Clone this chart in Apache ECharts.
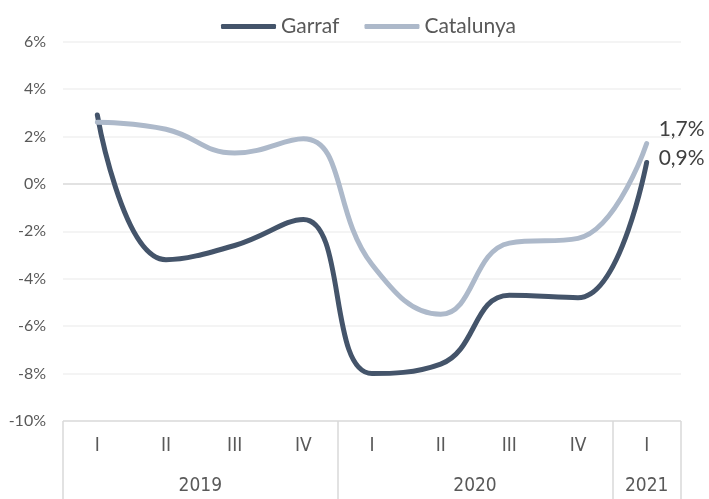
<!DOCTYPE html>
<html>
<head>
<meta charset="utf-8">
<script src="https://cdn.jsdelivr.net/npm/echarts@6/dist/echarts.min.js"></script>
<style>
  body { margin: 0; padding: 0; background: #fff; }
  #chart { width: 709px; height: 499px; }
</style>
</head>
<body>
<div id="chart"></div>
<script>
  // trimestres i anys
  const quarters = ['I', 'II', 'III', 'IV', 'I', 'II', 'III', 'IV', 'I'];
  const years = ['2019', '2020', '2021'];
  const yearCenters = [2, 6, 8.5];   // centre del grup d'anys (en trimestres)
  const yearBounds = [0, 4, 8, 9];   // separadors entre anys

  // variacio interanual (%)
  const garraf = [2.9, -3.2, -2.6, -1.5, -8.0, -7.6, -4.7, -4.8, 0.9];
  const catalunya = [2.6, 2.3, 1.3, 1.9, -3.4, -5.5, -2.5, -2.3, 1.7];

  const colors = ['#44546A', '#ADB9CA'];
  const font = 'Lato, "Liberation Sans", sans-serif';
  const narrow = '"DejaVu Sans Condensed", "Liberation Sans Narrow", Lato, sans-serif';

  let myChart = echarts.init(document.getElementById('chart'));

  // linia del 0% i la de baix una mica mes fosques
  let splitColors = ['#d9d9d9', '#f0f0f0', '#f0f0f0', '#f0f0f0', '#f0f0f0', '#d9d9d9', '#f0f0f0', '#f0f0f0', '#f0f0f0'];

  function pct(v) {
    return String(v).replace('.', ',') + '%';
  }

  let option = {
    color: colors,
    animation: false,
    textStyle: { fontFamily: font },
    legend: {
      data: ['Garraf', 'Catalunya'],
      left: 216,
      top: 11,
      icon: 'roundRect',
      itemWidth: 55,
      itemHeight: 5,
      itemGap: 25,
      textStyle: { fontSize: 21, color: '#595959', fontFamily: font }
    },
    grid: {
      left: 63,
      right: 28,
      top: 41.5,
      bottom: 78
    },
    xAxis: [
      {
        type: 'category',
        data: quarters,
        boundaryGap: true,
        axisLine: { show: false },
        axisTick: { show: false },
        axisLabel: { margin: 16, fontSize: 19, color: '#595959', fontFamily: narrow }
      },
      {
        type: 'value',
        min: 0,
        max: 9,
        position: 'bottom',
        axisLine: { show: false },
        splitLine: { show: false },
        axisTick: {
          show: true,
          customValues: yearBounds,
          length: 79,
          lineStyle: { color: '#d9d9d9', width: 1.5 }
        },
        axisLabel: {
          customValues: yearCenters,
          margin: 56,
          fontSize: 19,
          color: '#595959',
          fontFamily: narrow,
          formatter: function (v) {
            return years[yearCenters.indexOf(v)];
          }
        }
      }
    ],
    yAxis: {
      type: 'value',
      min: -10,
      max: 6,
      interval: 2,
      axisLine: { show: false },
      axisTick: { show: false },
      axisLabel: {
        margin: 17,
        fontSize: 16,
        color: '#595959',
        fontFamily: font,
        formatter: '{value}%'
      },
      splitLine: { lineStyle: { color: splitColors, width: 1.5 } }
    },
    series: [
      {
        name: 'Garraf',
        type: 'line',
        data: garraf,
        smooth: 0.45,
        showSymbol: false,
        lineStyle: { width: 5, cap: 'round' },
        endLabel: {
          show: true,
          formatter: function (p) { return pct(p.value); },
          fontSize: 21,
          color: '#404040',
          fontFamily: font,
          distance: 12,
          offset: [0, -4]
        }
      },
      {
        name: 'Catalunya',
        type: 'line',
        data: catalunya,
        smooth: 0.45,
        showSymbol: false,
        lineStyle: { width: 5, cap: 'round' },
        endLabel: {
          show: true,
          formatter: function (p) { return pct(p.value); },
          fontSize: 21,
          color: '#404040',
          fontFamily: font,
          distance: 12,
          offset: [0, -14]
        }
      }
    ]
  };
  myChart.setOption(option);
</script>
</body>
</html>
